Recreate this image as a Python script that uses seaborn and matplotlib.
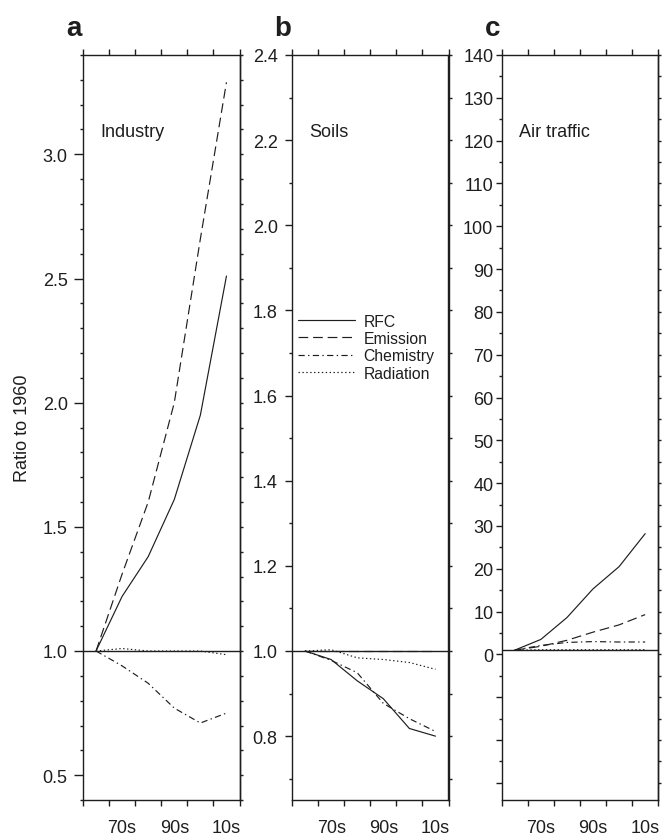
import numpy as np
import pandas as pd
import matplotlib
matplotlib.use("Agg")
import matplotlib.pyplot as plt
from matplotlib.lines import Line2D
from matplotlib.transforms import ScaledTranslation
from matplotlib.ticker import (MultipleLocator, FixedLocator, NullFormatter,
                               FuncFormatter, FormatStrFormatter)
import seaborn as sns

# Decade mid-points (1960s ... 2010s)
decades = [1965, 1975, 1985, 1995, 2005, 2015]
series_names = ["RFC", "Emission", "Chemistry", "Radiation"]
decade_labels = ["70s", "90s", "10s"]
decade_label_pos = [1975, 1995, 2015]

# a: industry
industry_rfc = [1.00, 1.22, 1.38, 1.61, 1.95, 2.51]
industry_emission = [1.00, 1.31, 1.60, 2.00, 2.66, 3.29]
industry_chemistry = [1.00, 0.94, 0.87, 0.77, 0.71, 0.75]
industry_radiation = [1.00, 1.01, 1.00, 1.00, 1.00, 0.985]

# b: soils
soils_rfc = [1.00, 0.980, 0.930, 0.888, 0.818, 0.800]
soils_emission = [1.00, 1.00, 1.00, 1.00, 1.00, 1.00]
soils_chemistry = [1.00, 0.978, 0.949, 0.877, 0.841, 0.811]
soils_radiation = [1.00, 1.003, 0.984, 0.980, 0.973, 0.957]

# c: air traffic
air_rfc = [1.0, 3.5, 8.6, 15.3, 20.5, 28.2]
air_emission = [1.0, 1.9, 3.3, 5.2, 6.9, 9.3]
air_chemistry = [1.0, 2.1, 2.8, 3.0, 2.9, 2.9]
air_radiation = [1.0, 1.1, 1.1, 1.1, 1.1, 1.1]

sns.set_theme(style="ticks")
ink = "#1e1e1e"
plt.rcParams["font.family"] = ["Liberation Sans", "DejaVu Sans"]
plt.rcParams.update({
    "lines.scale_dashes": False,
    "text.color": ink,
    "axes.edgecolor": ink,
    "axes.labelcolor": ink,
    "xtick.color": ink,
    "ytick.color": ink,
    "axes.linewidth": 1.0,
})

line_dashes = {
    "RFC": "",
    "Emission": (7, 3.5),
    "Chemistry": (4.5, 2.4, 1, 2.4),
    "Radiation": (1, 1.8),
}
line_width = 0.85

panels = [
    dict(tag="a", title="Industry",
         values=[industry_rfc, industry_emission, industry_chemistry, industry_radiation],
         ylim=(0.4, 3.4), major=0.5, minor=0.1, fmt="%.1f",
         left=83.0, tick_len=6.5, pad=4.5, ylabel="Ratio to 1960"),
    dict(tag="b", title="Soils",
         values=[soils_rfc, soils_emission, soils_chemistry, soils_radiation],
         ylim=(0.65, 2.4), major=0.2, minor=0.1, fmt="%.1f",
         left=292.0, tick_len=5.3, pad=5.0, ylabel=None),
    dict(tag="c", title="Air traffic",
         values=[air_rfc, air_emission, air_chemistry, air_radiation],
         ylim=(-34, 140), major=10, minor=5, fmt=None,
         left=501.7, tick_len=4.5, pad=1.5, ylabel=None),
]

W, H = 662, 837
fig = plt.figure(figsize=(W / 100, H / 100), dpi=100)
ax_w, ax_top, ax_bottom = 156.5, 56.0, 801.0

for p in panels:
    ax = fig.add_axes([p["left"] / W, (H - ax_bottom) / H,
                       ax_w / W, (ax_bottom - ax_top) / H])

    df = pd.DataFrame({
        "year": decades * len(series_names),
        "ratio": np.concatenate(p["values"]),
        "series": np.repeat(series_names, len(decades)),
    })
    ax.axhline(1.0, color=ink, lw=1.0, zorder=1.5)
    sns.lineplot(data=df, x="year", y="ratio", style="series",
                 style_order=series_names, dashes=line_dashes,
                 color=ink, linewidth=line_width, estimator=None,
                 legend=False, ax=ax, zorder=2)

    ax.set_xlim(1960, 2020)
    ax.set_ylim(*p["ylim"])
    ax.set_xlabel("")
    ax.set_ylabel("")
    for s in ax.spines.values():
        s.set_visible(True)
        s.set_linewidth(1.0)

    # x: decade boundaries as ticks, labels centred in the decade
    ax.xaxis.set_major_locator(FixedLocator(list(range(1960, 2021, 10))))
    ax.xaxis.set_major_formatter(NullFormatter())
    ax.set_xticks(decade_label_pos, labels=decade_labels, minor=True)
    ax.tick_params(axis="x", which="major", direction="out", length=4.2,
                   width=1.0, top=True, bottom=True)
    ax.tick_params(axis="x", which="minor", length=0, pad=14.0,
                   labelsize=13, top=False)

    # y: labelled ticks on the left
    ax.yaxis.set_major_locator(MultipleLocator(p["major"]))
    ax.yaxis.set_minor_locator(MultipleLocator(p["minor"]))
    if p["fmt"]:
        ax.yaxis.set_major_formatter(FormatStrFormatter(p["fmt"]))
    else:
        ax.yaxis.set_major_formatter(
            FuncFormatter(lambda v, pos: f"{v:.0f}" if v >= 0 else ""))
    ax.tick_params(axis="y", which="major", direction="out",
                   length=p["tick_len"], width=1.0, pad=p["pad"],
                   labelsize=13, left=True, right=False)
    ax.tick_params(axis="y", which="minor", direction="out", length=2.3,
                   width=1.0, left=True, right=False)

    # short unlabelled ticks on the right
    sec = ax.secondary_yaxis("right")
    sec.yaxis.set_major_locator(MultipleLocator(p["minor"]))
    sec.yaxis.set_major_formatter(NullFormatter())
    sec.tick_params(axis="y", direction="out", length=2.4, width=1.0)
    sec.spines["right"].set_linewidth(1.0)

    ax.text(0.112, 0.897, p["title"], transform=ax.transAxes,
            ha="left", va="center", fontsize=13)
    ax.text(0, 1, p["tag"], fontsize=20, fontweight="bold",
            ha="right", va="baseline",
            transform=ax.transAxes + ScaledTranslation(-0.01, 0.20, fig.dpi_scale_trans))

    if p["ylabel"]:
        ax.set_ylabel(p["ylabel"], fontsize=13)
        ax.yaxis.set_label_coords(-0.335, 0.5)

    if p["tag"] == "b":
        handles = []
        for name in series_names:
            d = line_dashes[name]
            if d == "":
                h = Line2D([], [], color=ink, lw=line_width, linestyle="-")
            else:
                h = Line2D([], [], color=ink, lw=line_width, linestyle=(0, d))
            handles.append(h)
        ax.legend(handles, series_names, loc="upper left",
                  bbox_to_anchor=(0.04, 0.653), frameon=False, fontsize=11.3,
                  handlelength=3.6, handletextpad=0.55, labelspacing=0.15,
                  borderpad=0, borderaxespad=0)

fig.savefig("out.png", dpi=100)
